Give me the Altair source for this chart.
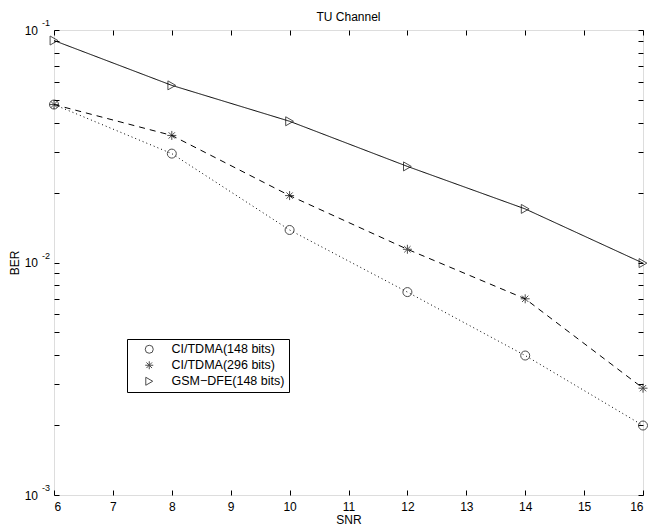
import altair as alt
import pandas as pd

# ---- data ----
snr = [6, 8, 10, 12, 14, 16]
ber_ci148 = [0.0478, 0.0294, 0.0138, 0.00746, 0.00398, 0.00199]
ber_ci296 = [0.0478, 0.0352, 0.0194, 0.0114, 0.00698, 0.00288]
ber_gsm = [0.0901, 0.0578, 0.0405, 0.0259, 0.0170, 0.00994]
series_names = ["CI/TDMA(148 bits)", "CI/TDMA(296 bits)", "GSM\u2212DFE(148 bits)"]
dash_styles = ["dotted", "dashed", "solid"]

x_ticks = list(range(6, 17))
y_major = [0.001, 0.01, 0.1]
y_exponents = ["-3", "-2", "-1"]
y_minor_mult = [1, 2, 3, 4, 5, 6, 7, 8, 9]
y_ticks = [m * d for d in [0.001, 0.01] for m in y_minor_mult] + [0.1]

FONT = "Liberation Sans"
ASTERISK = "M0,-1L0,1M-1,0L1,0M-0.7,-0.7L0.7,0.7M-0.7,0.7L0.7,-0.7"

rows = []
for name, style, vals in zip(series_names, dash_styles, [ber_ci148, ber_ci296, ber_gsm]):
    for s, v in zip(snr, vals):
        rows.append({"snr": s, "ber": v, "series": name, "style": style})
df = pd.DataFrame(rows)

xscale = alt.Scale(domain=[6, 16], nice=False, zero=False)
yscale = alt.Scale(type="log", domain=[0.001, 0.1], nice=False)

common_axis = dict(domain=False, grid=False, offset=-5, tickSize=5, tickColor="black",
                   tickWidth=1, labelFont=FONT, labelFontSize=12, labelColor="black",
                   titleFont=FONT, titleFontSize=12, titleFontWeight="normal",
                   titleColor="black")

lines = alt.Chart(df).mark_line(color="black", strokeWidth=1).encode(
    x=alt.X("snr:Q", scale=xscale,
            axis=alt.Axis(values=x_ticks, title="SNR", labelPadding=6, titlePadding=2,
                          **common_axis)),
    y=alt.Y("ber:Q", scale=yscale,
            axis=alt.Axis(values=y_ticks, labels=False, title="BER", titlePadding=32,
                          **common_axis)),
    strokeDash=alt.StrokeDash("style:N", scale=alt.Scale(domain=dash_styles,
                              range=[[1, 3], [6, 5], [1, 0]]), legend=None),
    detail="series:N",
)

points = alt.Chart(df).mark_point(filled=False, color="black", strokeWidth=1,
                                  size=81).encode(
    x=alt.X("snr:Q", scale=xscale,
            axis=alt.Axis(orient="top", values=x_ticks, labels=False, title=None,
                          **common_axis)),
    y=alt.Y("ber:Q", scale=yscale,
            axis=alt.Axis(orient="right", values=y_ticks, labels=False, title=None,
                          **common_axis)),
    shape=alt.Shape("series:N",
                    scale=alt.Scale(domain=series_names,
                                    range=["circle", ASTERISK, "triangle-right"]),
                    legend=alt.Legend(title=None, orient="none", legendX=73, legendY=309)),
)

lab_df = pd.DataFrame({"val": y_major, "exp": y_exponents})
base_lab = alt.Chart(lab_df).encode(y=alt.Y("val:Q", scale=yscale, axis=None))
ten = base_lab.mark_text(text="10", align="right", baseline="alphabetic", dy=4.5,
                         font=FONT, fontSize=12, color="black").encode(x=alt.value(-16))
expo = base_lab.mark_text(align="right", baseline="alphabetic", dy=-4,
                          font=FONT, fontSize=9, color="black").encode(
    x=alt.value(-4), text="exp:N")

chart = alt.layer(lines, points, ten, expo).resolve_axis(
    x="independent", y="independent"
).properties(
    width=589, height=465,
    title=alt.TitleParams("TU Channel", font=FONT, fontSize=12, fontWeight="normal",
                          color="black", anchor="middle", offset=-5),
    padding={"left": 54, "top": 30, "right": 7, "bottom": 34},
    autosize=alt.AutoSizeParams(type="none"),
).configure_view(stroke="black", strokeWidth=1).configure(
    background="white"
).configure_legend(
    strokeColor="black", fillColor="white", padding=4, symbolOffset=12,
    labelOffset=16, rowPadding=3, labelFont=FONT, labelFontSize=12.5,
    labelColor="black", symbolSize=64, symbolStrokeColor="black",
    symbolStrokeWidth=1
)

chart.save("out.html", embed_options={"renderer": "svg", "actions": False})
